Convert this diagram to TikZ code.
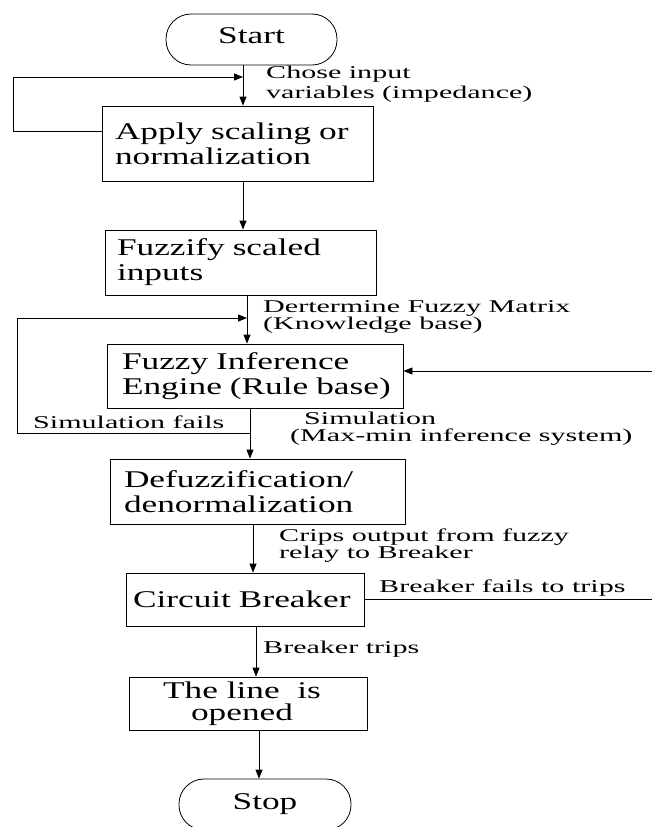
\documentclass[tikz,border=0pt]{standalone}
\usepackage{fontspec}
\setmainfont{Liberation Serif}
\newfontfamily\boxfont[FakeStretch=1.47]{Liberation Serif}
\newfontfamily\labfont[FakeStretch=1.67]{Liberation Serif}
\usetikzlibrary{arrows.meta}
\newcommand{\twoline}[3]{\vtop{\baselineskip=#1\lineskiplimit=-100pt\hbox{#2}\hbox{#3}}}
\newcommand{\ctwo}[3]{\vbox{\baselineskip=#1\lineskiplimit=-100pt\halign{\hfil##\hfil\cr#2\cr#3\cr}}}
\begin{document}
\begin{tikzpicture}[x=1pt,y=-1pt,
  every node/.style={inner sep=0pt},
  box/.style={draw, line width=0.8pt, font=\boxfont\fontsize{24}{25}\selectfont, align=left, inner ysep=0pt},
  term/.style={draw, line width=0.8pt, rounded corners=25pt, font=\boxfont\fontsize{24}{24}\selectfont},
  lab/.style={font=\labfont\fontsize{18}{17}\selectfont, anchor=base west},
  arr/.style={-{Triangle[length=9pt,width=7pt]}, line width=0.8pt},
  ln/.style={line width=0.8pt}]
\path[use as bounding box] (0,0) rectangle (652,827);

% nodes
\node[term, minimum width=171pt, minimum height=51pt] (start) at (251.5,39.5) {\raisebox{4pt}[16pt][0pt]{Start}\hspace{34pt}};
\node[box, inner xsep=13pt, text width=245pt, minimum height=75pt] (apply) at (237.5,143.5) {\mbox{Apply scaling or}\\\mbox{normalization}};
\node[box, inner xsep=12pt, text width=247pt, minimum height=65pt] (fuzz) at (240.5,262.5) {\mbox{Fuzzify scaled}\\\mbox{inputs}};
\node[box, inner xsep=15pt, text width=266pt, minimum height=64pt] (fie) at (255,376) {\mbox{Fuzzy Inference}\\\mbox{Engine (Rule base)}};
\node[box, inner xsep=14pt, text width=267pt, minimum height=65pt] (defuzz) at (257.5,491.5) {\mbox{Defuzzification/}\\\mbox{denormalization}};
\node[box, inner xsep=7pt, text width=224pt, minimum height=53pt] (cb) at (245,599.5) {\mbox{Circuit Breaker}};
\node[box, minimum width=238pt, minimum height=53pt] (line) at (248,703.5) {\ctwo{22pt}{The line\ \ is}{opened}\hspace{12pt}};
\node[term, minimum width=172pt, minimum height=51pt] (stop) at (265,804.5) {Stop\hspace{33pt}};

% junction coordinates
\coordinate (c1) at (243,77);
\coordinate (l1) at (13,77);
\coordinate (c2) at (247,318);
\coordinate (l2) at (17,318);
\coordinate (c3) at (250,433);
\coordinate (c4) at (253,550);
\coordinate (c5) at (256,650);
\coordinate (c6) at (259,750);
\coordinate (r1) at (652,371);
\coordinate (r2) at (652,598);

% connectors
\draw[arr] (start.south -| c1) -- (apply.north -| c1);
\draw[arr] ([yshift=12.5pt]apply.west) -| (l1) -- (c1);
\draw[arr] (apply.south -| c1) -- (fuzz.north -| c1);
\draw[arr] (fuzz.south -| c2) -- (fie.north -| c2);
\draw[arr] (c3) -| (l2) -- (c2);
\draw[arr] (r1) -- (r1 -| fie.east);
\draw[arr] (fie.south -| c3) -- (defuzz.north -| c3);
\draw[arr] (defuzz.south -| c4) -- (cb.north -| c4);
\draw[ln] (cb.east) -- (cb.east -| r2);
\draw[arr] (cb.south -| c5) -- (line.north -| c5);
\draw[arr] (line.south -| c6) -- (stop.north -| c6);

% labels
\node[lab] (lchose) at (266,78) {\twoline{20pt}{Chose input}{variables (impedance)}};
\node[lab] (ldet) at (263,312) {\twoline{17pt}{Dertermine Fuzzy Matrix}{(Knowledge base)}};
\node[lab] (lsimf) at (33,428) {Simulation fails};
\node[lab] (lsim) at (290,424) {\twoline{17pt}{\hspace*{14pt}Simulation}{(Max-min inference system)}};
\node[lab] (lcrip) at (279,541) {\twoline{17pt}{Crips output from fuzzy}{relay to Breaker}};
\node[lab] (lbf) at (379,592) {Breaker fails to trips};
\node[lab] (lbt) at (263,653) {Breaker trips};
\end{tikzpicture}
\end{document}
